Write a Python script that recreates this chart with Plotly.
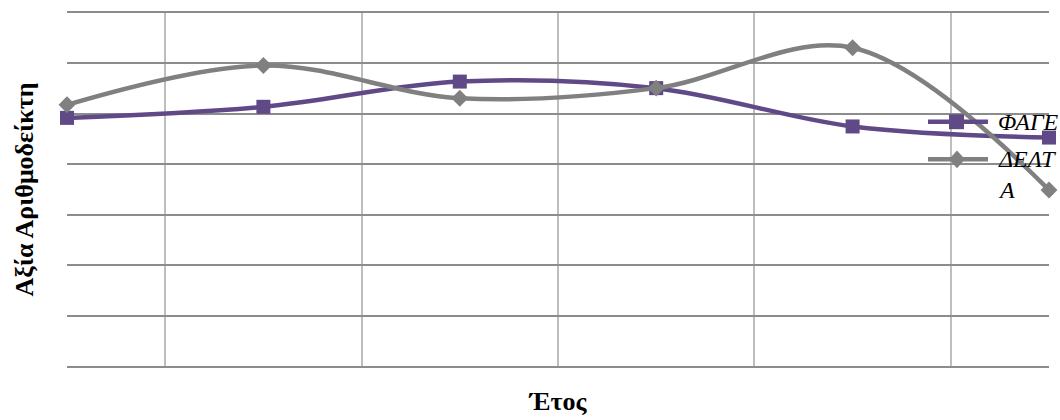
import plotly.graph_objects as go

# Six consecutive observation points (years) on a category-like axis
periods = [0, 1, 2, 3, 4, 5]

# Index values per series
fage = [4.92, 5.14, 5.64, 5.51, 4.75, 4.53]
delta = [5.18, 5.96, 5.31, 5.51, 6.31, 3.49]

series_names = ["ΦΑΓΕ", "ΔΕΛΤ", "Α"]
x_title = "Έτος"
y_title = "Αξία Αριθμοδείκτη"

PURPLE = "#5F4A87"
GRAY = "#808080"
GRID = "#8C8C8C"
SERIF = "Liberation Serif"

W, H = 1060, 420
ML, MR, MT, MB = 67, 11, 12, 51
PW, PH = W - ML - MR, H - MT - MB


def px(x):
    return (x - ML) / PW


def py(y):
    return (H - MB - y) / PH


fig = go.Figure()
fig.add_trace(go.Scatter(
    x=periods, y=fage, name=series_names[0], mode="lines+markers",
    line=dict(color=PURPLE, width=4.5, shape="spline", smoothing=1.0),
    marker=dict(symbol="square", size=14, color=PURPLE),
    cliponaxis=False,
))
fig.add_trace(go.Scatter(
    x=periods, y=delta, name=series_names[1] + series_names[2], mode="lines+markers",
    line=dict(color=GRAY, width=4.5, shape="spline", smoothing=1.0),
    marker=dict(symbol="diamond", size=13, color=GRAY),
    cliponaxis=False,
))

# Hand-placed legend at the right edge, overlapping the plot area
leg_font = dict(family=SERIF, size=24, color="black", style="italic")
rows = [(122, PURPLE, "square"), (160, GRAY, "diamond")]
for ypix, col, sym in rows:
    fig.add_shape(type="line", xref="paper", yref="paper",
                  x0=px(928), x1=px(988), y0=py(ypix), y1=py(ypix),
                  line=dict(color=col, width=4.5))
    if sym == "square":
        fig.add_shape(type="rect", xref="paper", yref="paper",
                      x0=px(949), x1=px(964), y0=py(ypix + 7.5), y1=py(ypix - 7.5),
                      fillcolor=col, line=dict(width=0))
    else:
        cx = 957
        path = (f"M {px(cx - 8)},{py(ypix)} L {px(cx)},{py(ypix - 9)} "
                f"L {px(cx + 8)},{py(ypix)} L {px(cx)},{py(ypix + 9)} Z")
        fig.add_shape(type="path", xref="paper", yref="paper", path=path,
                      fillcolor=col, line=dict(width=0))

for ypix, text in [(122, series_names[0]), (160, series_names[1]), (191, series_names[2])]:
    fig.add_annotation(x=px(996), y=py(ypix), xref="paper", yref="paper",
                       text=text, showarrow=False, xanchor="left", yanchor="middle",
                       font=leg_font)

fig.update_layout(
    width=W, height=H,
    margin=dict(l=ML, r=MR, t=MT, b=MB),
    paper_bgcolor="white", plot_bgcolor="white",
    showlegend=False,
    xaxis=dict(
        range=[0, 5], tickvals=[0.5, 1.5, 2.5, 3.5, 4.5],
        showticklabels=False, ticks="",
        showgrid=True, gridcolor="#BEBEBE", gridwidth=2,
        zeroline=False,
        showline=True, mirror=True, linecolor=GRID, linewidth=2,
        title=dict(text=x_title, standoff=25,
                   font=dict(family=SERIF, size=26, color="black", weight="bold")),
    ),
    yaxis=dict(
        range=[0, 7], dtick=1, showticklabels=False, ticks="",
        showgrid=True, gridcolor=GRID, gridwidth=2,
        zeroline=False, showline=False,
        title=dict(text=y_title, standoff=24,
                   font=dict(family=SERIF, size=26, color="black", weight="bold")),
    ),
)

fig.write_html("out.html")
